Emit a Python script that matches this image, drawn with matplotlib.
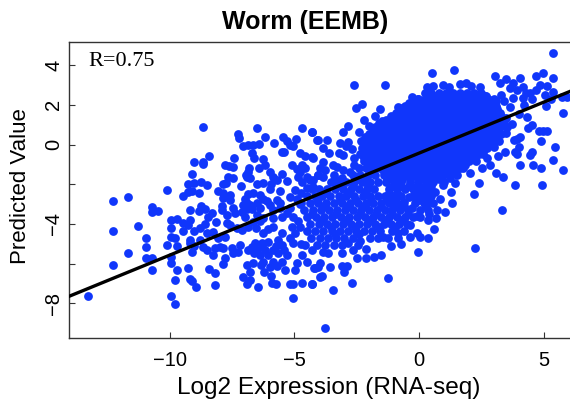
import matplotlib
matplotlib.use("Agg")
import matplotlib.pyplot as plt

title = "Worm (EEMB)"
x_label = "Log2 Expression (RNA-seq)"
y_label = "Predicted Value"
r_label = "R=0.75"
x_ticks = [-10, -5, 0, 5]
x_tick_labels = ["\u221210", "\u22125", "0", "5"]
y_ticks = [-8, -6, -4, -2, 0, 2, 4]
y_tick_labels = ["\u22128", "", "\u22124", "", "0", "2", "4"]
fit_x = [-14.05, 6.06]
fit_y = [-7.65, 2.68]

left_points = [
(-13.28,-7.63),(-12.28,-2.86),(-12.28,-4.37),(-12.28,-6.05),(-11.69,-2.64),(-11.69,-5.45),(-11.27,-4.11),
(-10.95,-4.71),(-10.95,-5.15),(-10.95,-5.72),(-10.70,-3.13),(-10.70,-3.40),(-10.47,-3.33),(-10.70,-5.72),(-10.70,-6.31),
(-10.11,-2.31),(-10.11,-5.06),(-9.96,-3.82),(-9.71,-3.77),(-9.96,-4.22),(-9.96,-4.64),(-9.80,-4.69),(-9.71,-5.11),
(-9.96,-5.65),(-9.96,-5.95),(-9.71,-6.32),(-9.81,-6.83),(-9.96,-7.62),(-9.81,-8.05),(-8.69,0.88),(-9.02,-0.88),
(-8.69,-0.88),(-8.69,-0.97),(-8.42,-0.60),(-9.10,-1.47),(-9.28,-1.99),(-9.02,-1.92),(-8.76,-1.87),(-8.53,-2.04),
(-9.46,-2.58),(-9.28,-2.38),(-9.10,-2.33),(-8.82,-2.46),(-9.20,-3.30),(-8.82,-3.33),(-8.76,-3.10),(-8.59,-3.25),
(-9.46,-3.97),(-9.46,-4.37),(-9.20,-3.80),(-9.28,-4.06),(-9.02,-4.36),(-9.20,-4.81),(-9.20,-4.98),(-9.10,-5.43),
(-9.02,-5.11),(-8.80,-4.81),(-8.80,-4.22),(-8.59,-4.02),(-8.69,-5.15),(-8.53,-5.31),(-9.28,-6.24),(-9.20,-6.79),
(-9.10,-6.86),(-8.96,-7.16),(-8.42,-6.26),(-8.19,-7.06),(-8.17,-6.49),
(-7.28,0.53),(-7.23,0.31),(-6.49,0.85),(-6.17,0.36),(-5.45,0.39),(-5.31,0.19),(-4.94,0.29),(-4.71,0.85),(-4.30,0.65),
(-4.08,0.23),(-5.81,0.09),(-7.08,-0.08),(-6.85,-0.03),(-6.65,-0.03),(-6.41,0.01),(-5.18,-0.03),(-5.05,-0.08),
(-5.49,-0.38),(-5.40,-0.38),(-4.78,-0.41),(-4.58,-0.56),(-4.30,-0.65),(-6.72,-0.45),(-6.63,-0.70),(-7.43,-0.70),(-6.25,-0.75),
(-7.79,-1.03),(-7.46,-1.12),(-7.62,-1.08),(-6.18,-1.03),(-6.41,-1.20),(-6.81,-1.20),(-5.08,-1.03),(-5.98,-1.40),(-5.51,-1.49),
(-6.95,-1.54),(-6.79,-1.70),(-7.66,-1.62),(-7.46,-1.70),(-7.76,-1.96),(-7.85,-1.99),(-5.85,-1.62),(-5.31,-1.82),
(-4.78,-1.37),(-4.58,-1.20),(-4.51,-1.62),(-4.85,-1.62),(-4.71,-1.87),(-4.38,-1.79),(-4.24,-2.12),(-4.51,-2.21),(-4.04,-1.54),
(-6.88,-1.40),(-5.72,-1.80),(-6.92,-1.62),(-4.68,-1.05),(-4.90,-1.25),
(-7.16,-2.09),(-6.52,-2.01),(-6.25,-1.96),(-5.96,-2.01),(-5.98,-2.24),(-5.58,-2.33),(-4.98,-2.29),(-5.18,-2.63),
(-8.05,-2.34),(-7.87,-2.43),(-7.59,-2.54),(-7.87,-2.71),(-7.59,-2.80),(-6.85,-2.49),(-6.65,-2.46),(-6.39,-2.54),
(-6.25,-2.76),(-6.99,-2.76),(-5.72,-2.80),(-5.58,-2.96),(-4.75,-2.45),(-4.90,-2.75),
(-7.90,-3.08),(-7.89,-3.30),(-7.48,-3.18),(-7.08,-3.05),(-6.92,-2.96),(-6.52,-2.96),(-6.72,-3.27),(-6.39,-3.22),
(-5.98,-3.05),(-5.85,-3.30),(-5.58,-3.22),(-5.18,-3.22),(-6.80,-3.05),(-6.10,-2.85),
(-8.29,-3.47),(-8.46,-3.67),(-8.13,-3.89),(-7.72,-3.55),(-7.39,-3.47),(-7.12,-3.38),(-6.99,-3.64),(-6.52,-3.55),
(-6.65,-3.89),(-6.25,-3.72),(-5.85,-3.72),(-5.52,-3.64),(-5.05,-3.64),(-6.90,-3.25),(-6.38,-3.85),(-5.30,-3.45),
(-7.72,-3.97),(-7.59,-4.06),(-7.32,-4.22),(-7.12,-4.31),(-6.85,-4.14),(-6.25,-4.48),(-5.85,-4.14),(-5.52,-4.44),(-5.11,-4.14),
(-4.98,-4.48),(-8.53,-4.48),(-8.26,-4.39),(-8.06,-4.73),(-7.79,-4.64),(-7.99,-5.15),(-8.19,-5.23),(-7.86,-5.23),
(-8.26,-5.57),(-7.79,-5.73),(-7.86,-6.02),(-7.52,-5.23),(-7.46,-5.48),(-7.26,-5.40),(-7.19,-5.06),(-6.55,-4.20),(-6.05,-4.25),
(-6.85,-5.31),(-6.59,-4.98),(-6.32,-4.98),(-6.05,-4.89),(-5.65,-4.81),(-5.52,-5.06),(-6.52,-5.31),(-6.18,-5.31),(-5.85,-5.31),
(-6.39,-5.57),(-6.05,-5.57),(-5.65,-5.48),(-5.31,-5.57),(-6.25,-5.90),(-5.85,-5.90),(-5.52,-5.90),(-5.39,-6.32),(-6.92,-6.07),
(-6.65,-5.99),(-6.79,-6.41),(-6.22,-6.41),(-5.94,-6.61),(-7.05,-6.69),(-6.79,-6.83),(-6.89,-7.04),(-6.45,-7.16),(-5.92,-6.96),
(-5.74,-7.01),(-5.18,-7.03),(-5.05,-7.04),(-4.69,-7.00),(-4.31,-7.03),(-5.05,-7.73),(-4.98,-6.32),(-4.89,-5.95),(-4.51,-5.90),
(-4.71,-5.57),(-4.18,-6.24),(-3.98,-6.66),(-4.05,-6.18),(-5.18,-4.73),(-5.05,-4.98),(-4.78,-4.14),(-5.75,-5.10),(-6.30,-5.10),
(-6.72,-5.15),(-6.62,-5.45),(-5.40,-5.30),(-5.98,-6.15),(-5.70,-6.10),(-6.35,-6.05),
]

right_points = [
(5.39,4.61),(0.52,3.62),(1.41,3.75),(-2.60,3.01),(-1.37,3.01),(3.05,3.47),(3.49,3.30),(4.04,3.38),(4.69,3.45),(4.97,3.59),
(5.37,3.38),(3.25,3.08),(3.79,3.12),(4.19,2.91),(4.86,3.00),(5.15,2.95),(3.65,2.83),(3.92,2.75),(4.46,2.58),(5.39,2.63),
(5.06,2.49),(5.73,2.41),(5.93,2.41),(5.10,1.96),(5.76,1.57),(4.19,2.33),(3.79,2.33),(3.65,1.91),(4.32,1.40),(4.52,0.98),
(4.39,0.86),(4.82,0.70),(4.99,0.70),(5.15,0.70),(4.90,0.16),(5.44,-0.13),(5.39,-0.76),(5.77,-1.28),(4.07,0.36),(3.82,0.23),
(3.95,0.30),(4.03,-0.14),(3.92,-0.48),(3.86,-0.36),(4.52,-0.36),(4.46,-0.53),(4.07,-1.03),(4.56,-1.03),(4.90,-1.17),(4.93,-2.04),
(3.86,-2.04),(3.39,-1.62),(3.09,-1.45),(3.45,-0.36),(3.19,-0.56),(2.72,-0.70),(2.52,-1.20),(2.05,-1.45),(2.42,-1.96),(2.20,-2.51),
(3.32,-3.32),(2.25,-5.20),(1.51,-1.54),(1.24,-1.70),(1.45,-1.96),(1.27,-2.38),(1.31,-2.96),(1.04,-3.38),(0.84,-2.76),(0.64,-2.38),
(0.71,-3.30),(0.68,-3.72),(0.62,-4.27),(0.37,-3.80),(0.36,-4.69),(-0.05,-5.42),(-0.07,-4.47),(-0.36,-4.64),(0.04,-4.64),(-0.36,-4.06),
(-0.72,-5.03),(-0.83,-4.44),(-1.12,-5.11),(-1.43,-4.64),(-1.23,-4.73),(-1.24,-6.71),(-1.54,-5.57),(-1.79,-5.65),(-2.14,-5.73),
(-2.50,-5.70),(-2.14,-5.26),(-2.37,-4.86),(-2.66,-5.31),(-2.84,-4.98),(-3.08,-5.48),(-2.90,-6.10),(-3.11,-6.10),(-3.00,-6.44),
(-2.70,-7.00),(-3.44,-7.33),(-3.79,-9.23),(-3.91,-6.62),(-3.57,-6.16),(-3.98,-5.99),(-4.22,-6.24),(-4.31,-7.03),(-3.64,-5.48),
(-4.28,0.65),(-2.84,0.93),(-3.04,0.65),(-2.42,0.65),(-2.54,1.82),(-2.30,2.04),(-1.57,1.77),(-2.20,1.23),(-2.00,0.93),
(-4.04,0.23),(-3.71,0.23),(-3.85,-0.19),(-3.17,0.06),(-2.84,0.11),(-3.04,-0.53),(-2.61,-0.70),(-4.27,-0.70),(-3.85,-0.86),
(-3.44,-1.03),(-3.98,-1.20),(-3.78,-1.28),(-4.04,-1.54),(-3.85,-1.62),(-3.31,-1.12),(-3.04,-1.28),(-2.77,-1.37),(-2.61,-1.03),
(-4.27,-1.79),(-3.20,-0.45),(-2.95,-0.05),(-3.60,-0.45),(-2.70,-0.20),(-3.40,-1.55),(-3.10,-1.70),
(0.30,2.90),(0.55,2.95),(0.95,3.02),(1.20,2.88),(1.65,3.05),(1.90,3.12),(2.10,2.95),(2.45,2.90),(2.70,2.45),(3.10,2.20),
(3.30,2.50),(4.20,2.00),(4.55,2.30),(4.70,2.75),(5.30,2.30),(3.50,1.35),(3.75,1.05),(3.50,0.60),(3.20,0.20),(3.00,-0.10),
(-1.75,1.45),(-1.50,1.20),(-1.10,1.40),(-0.85,1.90),(-0.70,1.85),(-0.30,2.40),(-0.05,2.30),(4.00,1.55),(4.30,2.60),(3.40,2.20),
(0.95,-2.05),(0.30,-2.80),(-0.10,-3.60),(2.85,-1.05),(1.85,-0.95),(1.65,-1.20),(1.10,-1.45),
(-0.42,-2.66),(-0.62,-2.88),(-0.28,-3.18),(0.42,-3.48),(-4.78,-3.00),(-4.85,-3.85),(-4.72,-5.02),(-4.30,-5.30),(-3.85,-5.42),
]

dense_rows_y = [2.62, 2.28, 1.95, 1.60, 1.25, 0.90, 0.55, 0.20, -0.15, -0.50, -0.85, -1.20, -1.55, -1.90, -2.25,
                -2.60, -2.95, -3.30, -3.65, -4.00, -4.35, -4.70, -5.05]
dense_rows_x = [
[0.22,0.50,0.80,1.08,1.36,1.66,1.94,2.22,2.50],
[-0.05,0.24,0.52,0.82,1.10,1.38,1.66,1.96,2.24,2.52,2.78,3.02],
[-0.55,-0.28,0.00,0.28,0.56,0.84,1.12,1.40,1.68,1.96,2.24,2.52,2.80,3.08],
[-0.92,-0.66,-0.38,-0.10,0.18,0.46,0.74,1.02,1.30,1.58,1.86,2.14,2.42,2.70,2.98,3.26],
[-1.34,-1.06,-0.78,-0.50,-0.22,0.06,0.34,0.62,0.90,1.18,1.46,1.74,2.02,2.30,2.58,2.86,3.14,3.38],
[-1.78,-1.50,-1.22,-0.94,-0.66,-0.38,-0.10,0.18,0.46,0.74,1.02,1.30,1.58,1.86,2.14,2.42,2.70,2.98,3.26,3.52],
[-2.00,-1.72,-1.44,-1.16,-0.88,-0.60,-0.32,-0.04,0.24,0.52,0.80,1.08,1.36,1.64,1.92,2.20,2.48,2.76,3.04,3.30],
[-2.32,-2.04,-1.76,-1.48,-1.20,-0.92,-0.64,-0.36,-0.08,0.20,0.48,0.76,1.04,1.32,1.60,1.88,2.16,2.44,2.72,3.00],
[-2.30,-2.02,-1.74,-1.46,-1.18,-0.90,-0.62,-0.34,-0.06,0.22,0.50,0.78,1.06,1.34,1.62,1.90,2.18,2.46,2.74],
[-2.36,-2.08,-1.80,-1.52,-1.24,-0.96,-0.68,-0.40,-0.12,0.16,0.44,0.72,1.00,1.28,1.56,1.84,2.12,2.40,2.58],
[-2.20,-1.92,-1.64,-1.36,-1.08,-0.80,-0.52,-0.24,0.04,0.32,0.60,0.88,1.16,1.44,1.72,2.00,2.30],
[-2.42,-2.12,-1.84,-1.56,-1.28,-1.00,-0.72,-0.44,-0.16,0.12,0.40,0.68,0.96,1.24,1.50,1.76],
[-2.65,-2.36,-2.04,-1.76,-1.42,-1.14,-0.86,-0.52,-0.20,0.06,0.34,0.62,0.96],
[-3.55,-3.22,-2.92,-2.60,-2.28,-1.98,-1.66,-1.34,-1.02,-0.74,-0.36,-0.04,0.26,0.58,1.00],
[-4.30,-4.00,-3.70,-3.36,-3.05,-2.72,-2.42,-2.08,-1.80,-1.22,-0.90,-0.58,-0.26,0.08,0.36],
[-4.50,-4.18,-3.88,-3.56,-3.22,-2.92,-2.60,-2.26,-1.96,-1.66,-1.38,-1.06,-0.74,-0.24,0.12,0.48],
[-4.72,-4.36,-4.04,-3.72,-3.42,-3.10,-2.76,-2.46,-2.14,-1.84,-1.52,-1.20,-0.88,-0.18,0.18,0.56],
[-4.60,-4.26,-3.94,-3.60,-3.30,-2.96,-2.66,-2.32,-2.02,-1.70,-1.38,-1.08,-0.76,-0.44,0.02,0.36],
[-4.48,-4.14,-3.82,-3.50,-3.14,-2.82,-2.50,-2.18,-1.86,-1.54,-1.22,-0.90,-0.58,-0.26,0.04],
[-4.36,-4.02,-3.68,-3.36,-3.04,-2.74,-2.40,-2.08,-1.76,-1.42,-1.12,-0.80,-0.48],
[-4.50,-4.18,-3.84,-3.50,-3.18,-2.86,-2.54,-2.20,-1.88,-1.56,-1.10,-0.62],
[-4.32,-3.98,-3.66,-3.34,-3.00,-2.66,-1.96,-1.66,-0.86],
[-4.56,-4.10,-3.78,-3.40,-3.10,-2.44],
]

fill_rows_y = [2.44, 2.10, 1.78, 1.42, 1.08, 0.72, 0.38, 0.02, -0.32, -0.68, -1.02, -1.38, -1.72, -2.08, -2.42,
               -2.78, -3.12, -3.48, -3.82, -4.18, -4.52]
fill_rows_x = [
[0.36,0.66,0.94,1.22,1.52,1.80,2.08,2.36,2.64],
[-0.40,-0.14,0.12,0.40,0.68,0.96,1.24,1.54,1.82,2.10,2.38,2.66,2.92],
[-0.78,-0.52,-0.24,0.04,0.32,0.60,0.88,1.16,1.44,1.72,2.00,2.28,2.56,2.84,3.12],
[-1.12,-0.86,-0.58,-0.30,-0.02,0.26,0.54,0.82,1.10,1.38,1.66,1.94,2.22,2.50,2.78,3.06,3.30],
[-1.62,-1.34,-1.06,-0.78,-0.50,-0.22,0.06,0.34,0.62,0.90,1.18,1.46,1.74,2.02,2.30,2.58,2.86,3.14,3.42],
[-1.86,-1.58,-1.30,-1.02,-0.74,-0.46,-0.18,0.10,0.38,0.66,0.94,1.22,1.50,1.78,2.06,2.34,2.62,2.90,3.18],
[-2.18,-1.90,-1.62,-1.34,-1.06,-0.78,-0.50,-0.22,0.06,0.34,0.62,0.90,1.18,1.46,1.74,2.02,2.30,2.58,2.86,3.14],
[-2.16,-1.88,-1.60,-1.32,-1.04,-0.76,-0.48,-0.20,0.08,0.36,0.64,0.92,1.20,1.48,1.76,2.04,2.32,2.60,2.88],
[-2.20,-1.92,-1.64,-1.36,-1.08,-0.80,-0.52,-0.24,0.04,0.32,0.60,0.88,1.16,1.44,1.72,2.00,2.28,2.56],
[-2.22,-1.94,-1.66,-1.38,-1.10,-0.82,-0.54,-0.26,0.02,0.30,0.58,0.86,1.14,1.42,1.70,1.98,2.26],
[-2.06,-1.78,-1.50,-1.22,-0.94,-0.66,-0.38,-0.10,0.18,0.46,0.74,1.02,1.30,1.58,1.86],
[-1.98,-1.42,-1.14,-0.86,-0.58,-0.30,-0.02,0.26,0.54,0.82,1.10,1.36],
[-3.38,-2.46,-2.18,-1.28,-1.00,-0.68,-0.36,-0.06,0.20,0.48,0.80],
[-3.30,-2.66,-2.04,-1.06,-0.74,-0.42,-0.10,0.22,0.50],
[-3.78,-2.82,-2.18,-1.20,-0.90,-0.06,0.30],
[-4.10,-3.18,-2.54,-1.92,-1.28,-0.96,0.00],
[-3.76,-2.80,-2.16,-1.54,-0.92,-0.60,0.26],
[-4.30,-3.34,-2.38,-1.74,-1.10,-0.46],
[-3.90,-2.94,-1.98,-1.34,-0.70],
[-3.52,-2.56,-1.60,-0.96],
[-3.38,-2.42],
]

points = left_points + right_points
for row_y, row_x in list(zip(dense_rows_y, dense_rows_x)) + list(zip(fill_rows_y, fill_rows_x)):
    points += [(x, row_y) for x in row_x]
point_x = [p[0] for p in points]
point_y = [p[1] for p in points]

plt.rcParams["font.family"] = ["Liberation Sans", "DejaVu Sans"]
fig = plt.figure(figsize=(5.7, 4.04), dpi=100)
ax = fig.add_axes([69 / 570, 66 / 404, 501 / 570, 296 / 404])
ax.scatter(point_x, point_y, s=40, color="#1036FB", linewidths=0, zorder=2)
ax.plot(fit_x, fit_y, color="black", lw=2.4, zorder=3)
ax.set_xlim(-14.05, 6.06)
ax.set_ylim(-9.75, 5.17)
ax.set_xticks(x_ticks)
ax.set_xticklabels(x_tick_labels, fontsize=14.5)
ax.set_yticks(y_ticks)
ax.set_yticklabels(y_tick_labels, fontsize=14.5, rotation=90, va="center")
ax.tick_params(axis="x", direction="in", length=4, width=0.8, color="#333333", pad=9)
ax.tick_params(axis="y", direction="in", length=4, width=0.8, color="#333333", pad=4)
ax.spines["right"].set_visible(False)
for side in ["left", "top", "bottom"]:
    ax.spines[side].set_linewidth(1.0)
    ax.spines[side].set_color("#333333")
fig.text(329 / 570, 1 - 388 / 404, x_label, fontsize=17.6, ha="center", va="center")
fig.text(21 / 570, 1 - 186 / 404, y_label, fontsize=16, rotation=90, ha="center", va="center")
fig.text(305 / 570, 1 - 22 / 404, title, fontsize=18, fontweight="bold", ha="center", va="center")
ax.text(88 / 570, 1 - 62 / 404, r_label, transform=fig.transFigure, fontsize=16,
        family="Liberation Serif", ha="left", va="center")
fig.savefig("out.png", dpi=100)
